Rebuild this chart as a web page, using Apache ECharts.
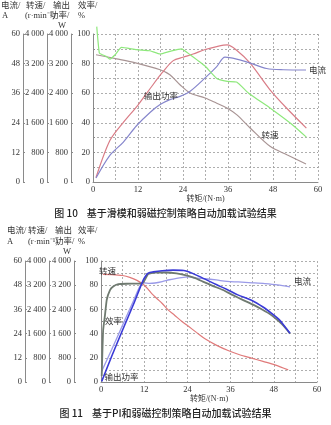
<!DOCTYPE html>
<html><head><meta charset="utf-8">
<script src="https://cdn.jsdelivr.net/npm/echarts@6/dist/echarts.min.js"></script>
<style>html,body{margin:0;padding:0;background:#fff}#c{width:331px;height:425px}</style>
</head><body><div id="c"></div>
<script>
// ===== Figure 10 (sliding mode + flux weakening) =====
const f10SpeedX = [0.8, 6.3, 11.6, 17.9, 20.5, 23.2, 25.9, 29.9, 33, 35.7, 38.3, 41.9, 47.2, 51.7, 56.8];
const f10SpeedY = [3440, 3330, 3215, 3035, 2900, 2630, 2405, 2270, 2128, 2000, 1820, 1460, 964, 736, 488]; // r/min
const f10PowerX = [0.8, 4.5, 8, 12, 15.2, 18.5, 21.4, 24, 26.7, 29.9, 33, 35.8, 38.3, 41.9, 47.2, 51.6, 56.9];
const f10PowerY = [120, 1120, 1600, 2080, 2520, 2960, 3280, 3372, 3460, 3580, 3660, 3704, 3560, 3212, 2492, 2000, 1456]; // W
const f10CurrentX = [0.8, 4.5, 8.1, 11.6, 15.2, 17.9, 20.5, 23.2, 25.9, 29.9, 33, 35.2, 38.3, 41.9, 46.3, 50.7, 56.8];
const f10CurrentY = [1.6, 10.8, 16.2, 22.8, 28.2, 31.4, 33.4, 34.7, 36.8, 42.2, 46.8, 50.6, 49.8, 48.2, 46.0, 45.5, 45.4]; // A
const f10EffX = [1.0, 1.7, 2.5, 3.5, 4.5, 5.9, 7.6, 11.6, 15.2, 17.9, 20.5, 23.6, 25.9, 28, 30, 33, 35.8, 38.3, 41.5, 47.2, 53, 56.9];
const f10EffY = [105, 87, 86, 85, 83, 86, 91, 89.4, 88.7, 86.5, 88.3, 90, 86, 82, 78, 70, 68, 67.5, 60, 50, 39, 30.3]; // %

// ===== Figure 11 (PI + flux weakening) =====
const f11SpeedX = [0.5, 3, 6, 8, 10, 11.8, 13, 14.1, 15.5, 17, 18.5, 20.5, 22.5, 24.3, 26.5, 29, 32, 35.3, 38.5, 41.8, 45, 48.3, 52];
const f11SpeedY = [3560, 3552, 3520, 3460, 3360, 3220, 3080, 2920, 2760, 2596, 2400, 2200, 2000, 1840, 1640, 1420, 1220, 1040, 900, 788, 680, 568, 400];
const f11EffX = [0.2, 0.6, 1.1, 1.6, 2.5, 3.4, 4.8, 7, 10, 11.5, 12.3, 13.1, 15, 18, 21, 24, 26, 28.3, 31, 33.9, 36.5, 39.5, 42.5, 45, 47, 48.7, 50.2, 51.4, 52.5];
const f11EffY = [5, 43, 55, 68, 76, 79, 80.8, 81.2, 81.3, 81.5, 85, 89.3, 90.5, 90.5, 89.8, 88, 86, 83, 79.5, 76, 72, 67.7, 63.5, 59.5, 56, 52, 48, 44, 40];
const f11PowerX = [0.2, 3, 6, 9, 11.7, 12.5, 13.1, 14.5, 17, 20, 23, 24.5, 26, 28.9, 32, 35, 38, 41.8, 45, 47.4, 49.5, 51.1, 52.5];
const f11PowerY = [20, 860, 1720, 2560, 3360, 3520, 3600, 3640, 3680, 3700, 3688, 3640, 3560, 3400, 3220, 3060, 2880, 2704, 2480, 2268, 2060, 1828, 1612];
const f11CurrentX = [0.2, 3, 6, 9, 11, 12, 13.5, 15, 17, 19, 21, 23, 24.5, 26, 28.9, 32, 35, 38.1, 42, 45.5, 49, 52.5];
const f11CurrentY = [5.4, 16.2, 28.2, 40.2, 48, 49.2, 48.9, 49.1, 49.8, 50.7, 51.4, 51.9, 52.2, 51.6, 51.2, 50.6, 49.9, 49.6, 49.2, 48.8, 48.2, 47.2];

// axis tick values
const torqueTicks = [0, 12, 24, 36, 48, 60];
const currentTicks = [0, 12, 24, 36, 48, 60];
const speedTicks = [0, 800, 1600, 2400, 3200, 4000];
const powerTicks = [0, 800, 1600, 2400, 3200, 4000];
const effTicks = [0, 20, 40, 60, 80, 100];

const pairs = (xs, ys) => xs.map((x, i) => [x, ys[i]]);
const SERIF = '"Liberation Serif","Noto Sans CJK SC",serif';
const CJK = '"Noto Sans CJK SC",sans-serif';
const fmtK = v => v >= 1000 ? String(v).replace(/(\d)(\d{3})$/, '$1 $2') : String(v);

function yAxis(grid, min, max, interval, offset, fmt, isMain) {
  return {
    type: 'value', gridIndex: grid, min: min, max: max, interval: interval,
    position: 'left', offset: offset,
    axisLine: {show: true, lineStyle: {color: '#8a8a8a', width: 1}},
    axisTick: {show: true, inside: true, length: 2, lineStyle: {color: '#8a8a8a'}},
    axisLabel: {show: true, margin: 3, fontSize: 8.5, fontFamily: SERIF, color: '#333', formatter: fmt},
    splitLine: isMain ? {show: true, lineStyle: {color: '#9a9a9a', width: 0.8, type: [2, 2]}} : {show: false}
  };
}
function xAxis(grid) {
  return {
    type: 'value', gridIndex: grid, min: 0, max: 60, interval: 6,
    axisLine: {show: true, lineStyle: {color: '#8a8a8a'}},
    axisTick: {show: false},
    axisLabel: {margin: 4, fontSize: 8.5, fontFamily: SERIF, color: '#333',
      formatter: v => torqueTicks.includes(v) ? String(v) : ''},
    splitLine: {show: true, lineStyle: {color: '#9a9a9a', width: 0.8, type: [2, 2]}},
    name: '转矩/(N·m)', nameLocation: 'middle', nameGap: 13,
    nameTextStyle: {fontSize: 8, fontFamily: SERIF, color: '#333'}
  };
}
function tag(x, y, text) {
  return {symbol: 'circle', symbolSize: 0, silent: true,
    data: [{coord: [x, y], label: {show: true, position: 'inside', formatter: text,
      fontSize: 8.5, fontFamily: CJK, color: '#333'}}]};
}
function line(name, x, y, xi, yi, color, width, extra) {
  return Object.assign({
    type: 'line', name: name, xAxisIndex: xi, yAxisIndex: yi, data: pairs(x, y),
    showSymbol: false, symbol: 'none', smooth: 0.3, animation: false,
    lineStyle: {color: color, width: width}, itemStyle: {color: color}
  }, extra || {});
}

// axis titles (graphic text)
function titles(rows, cols) {
  const out = [];
  cols.forEach(c => c.lines.forEach((t, i) => {
    out.push({type: 'text', x: c.x[i], y: rows[i], silent: true,
      style: {text: t, fontSize: 8.5, fontFamily: SERIF, fill: '#333', align: 'left', verticalAlign: 'middle'}});
  }));
  return out;
}

const chart = echarts.init(document.getElementById('c'), null, {renderer: 'canvas'});
chart.setOption({
  backgroundColor: '#fff',
  animation: false,
  title: [
    {text: '图 10    基于滑模和弱磁控制策略自动加载试验结果', left: 'center', top: 208, padding: 0,
      textStyle: {fontSize: 10, fontWeight: 500, fontFamily: CJK, color: '#222'}},
    {text: '图 11    基于PI和弱磁控制策略自动加载试验结果', left: 'center', top: 408, padding: 0,
      textStyle: {fontSize: 10, fontWeight: 500, fontFamily: CJK, color: '#222'}}
  ],
  grid: [
    {left: 93, right: 13, top: 34, bottom: 243, containLabel: false},
    {left: 101, right: 14, top: 261, bottom: 43, containLabel: false}
  ],
  xAxis: [xAxis(0), xAxis(1)],
  yAxis: [
    yAxis(0, 0, 100, 10, 0, v => effTicks.includes(v) ? String(v) : '', true),
    yAxis(0, 0, 4000, 800, 22, v => powerTicks.includes(v) ? fmtK(v) : ''),
    yAxis(0, 0, 4000, 800, 46, v => speedTicks.includes(v) ? fmtK(v) : ''),
    yAxis(0, 0, 60, 12, 70, v => currentTicks.includes(v) ? String(v) : ''),
    yAxis(1, 0, 100, 10, 0, v => effTicks.includes(v) ? String(v) : '', true),
    yAxis(1, 0, 4000, 800, 27, v => powerTicks.includes(v) ? fmtK(v) : ''),
    yAxis(1, 0, 4000, 800, 52, v => speedTicks.includes(v) ? fmtK(v) : ''),
    yAxis(1, 0, 60, 12, 76, v => currentTicks.includes(v) ? String(v) : '')
  ],
  graphic: [].concat(
    titles([6, 16, 26], [
      {lines: ['电流/', 'A'], x: [1, 2]},
      {lines: ['转速/', '(r·min⁻¹)'], x: [26, 25]},
      {lines: ['输出', '功率/', 'W'], x: [53, 50, 58]},
      {lines: ['效率/', '%'], x: [78, 78]}
    ]),
    titles([231, 241.5, 251.5], [
      {lines: ['电流/', 'A'], x: [7, 7]},
      {lines: ['转速/', '(r·min⁻¹)'], x: [28, 28]},
      {lines: ['输出', '功率/', 'W'], x: [55, 55, 63]},
      {lines: ['效率/', '%'], x: [78, 78]}
    ])
  ),
  series: [
    // Figure 10
    line('转速', f10SpeedX, f10SpeedY, 0, 2, '#a89494', 1.2, {markPoint: tag(47.2, 1270, '转速')}),
    line('输出功率', f10PowerX, f10PowerY, 0, 1, '#d97c86', 1.2, {markPoint: tag(18.1, 2320, '输出功率')}),
    line('电流', f10CurrentX, f10CurrentY, 0, 3, '#8686cc', 1.2, {endLabel: {show: true, formatter: '电流', distance: 3,
      fontSize: 8.5, fontFamily: CJK, color: '#333'}}),
    line('效率', f10EffX, f10EffY, 0, 0, '#8ee87c', 1.2, {clip: false, smooth: 0.15}),
    // Figure 11
    line('转速', f11SpeedX, f11SpeedY, 1, 6, '#e07a7a', 1.2, {markPoint: tag(1.8, 3690, '转速')}),
    line('电流', f11CurrentX, f11CurrentY, 1, 7, '#9a9ae8', 1.3, {endLabel: {show: true, formatter: '电流', distance: 4,
      offset: [0, -6], fontSize: 8.5, fontFamily: CJK, color: '#333'}}),
    line('效率', f11EffX, f11EffY, 1, 4, '#6f7a70', 1.8, {markPoint: tag(3.5, 51, '效率'), smooth: 0.15}),
    line('输出功率', f11PowerX, f11PowerY, 1, 5, '#3a3ad6', 1.6, {markPoint: tag(5.7, 175, '输出功率')})
  ]
});
</script>
</body></html>
